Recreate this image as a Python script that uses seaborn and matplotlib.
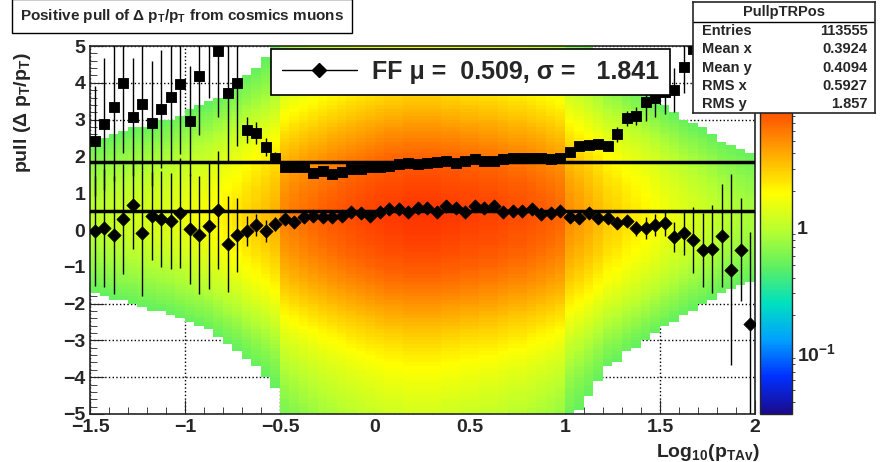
import numpy as np
import matplotlib
matplotlib.use("Agg")
import matplotlib.pyplot as plt
import seaborn as sns
from matplotlib.colors import LinearSegmentedColormap, LogNorm
from matplotlib.lines import Line2D

sns.set_style("ticks")
plt.rcParams['font.family'] = ['Liberation Sans', 'DejaVu Sans']
plt.rcParams['font.weight'] = 'bold'
plt.rcParams['axes.unicode_minus'] = True
plt.rcParams['mathtext.default'] = 'regular'

x_lo, x_hi, nbx = -1.5, 2.0, 70
bw = (x_hi - x_lo) / nbx
x_centers = x_lo + bw * (np.arange(nbx) + 0.5)

sigma_vals = [2.42, 2.88, 3.34, 4.0, 3.07, 3.42, 2.9, 3.29, 3.61, 3.97, 2.96, 4.18, 5.5, 4.86, 3.72,
              3.99, 2.72, 2.63, 2.26, 1.96, 1.71, 1.71, 1.71, 1.55, 1.6, 1.52, 1.57, 1.65, 1.65, 1.71,
              1.71, 1.74, 1.8, 1.82, 1.78, 1.82, 1.86, 1.87, 1.82, 1.87, 1.92, 1.87, 1.88, 1.92, 1.96,
              1.96, 1.96, 1.96, 1.94, 1.96, 2.11, 2.28, 2.3, 2.33, 2.28, 2.6, 3.03, 3.1, 3.47, 3.58,
              3.76, 3.8, 4.43, 4.92, 5.5, 5.5, 5.5, 5.5, 5.5, 5.5]
sigma_err = [1.5, 1.8, 2.0, 1.9, 1.6, 1.8, 1.7, 1.6, 1.8, 1.9, 1.5, 1.6, 1.9, 1.8, 1.9,
             1.7, 0.35, 0.3, 0.25, 0.15, 0.05, 0.05, 0.05, 0.05, 0.05, 0.05, 0.05, 0.05, 0.05, 0.05,
             0.05, 0.05, 0.05, 0.05, 0.05, 0.05, 0.05, 0.05, 0.05, 0.05, 0.05, 0.05, 0.05, 0.05, 0.05,
             0.05, 0.05, 0.05, 0.05, 0.05, 0.06, 0.08, 0.08, 0.1, 0.1, 0.2, 0.2, 0.25, 0.5, 0.5,
             0.6, 0.6, 0.7, 0.8, 1.0, 1.0, 1.0, 1.0, 1.0, 1.0]
mean_vals = [-0.03, 0.05, -0.14, 0.3, 0.68, -0.08, 0.38, 0.3, 0.24, 0.46, 0.03, -0.14, 0.11, 0.54, -0.38,
             -0.14, -0.03, 0.14, -0.03, 0.16, 0.3, 0.22, 0.35, 0.37, 0.35, 0.35, 0.38, 0.49, 0.47, 0.39,
             0.49, 0.57, 0.57, 0.49, 0.6, 0.6, 0.49, 0.65, 0.6, 0.49, 0.65, 0.6, 0.65, 0.49, 0.52,
             0.52, 0.57, 0.43, 0.47, 0.52, 0.35, 0.33, 0.47, 0.33, 0.33, 0.19, 0.24, 0.05, 0.05, 0.14,
             0.19, -0.19, -0.08, -0.27, -0.54, -0.52, -0.16, -1.08, -0.54, -2.55]
mean_err = [1.5, 1.6, 1.6, 1.5, 1.2, 1.7, 1.2, 1.3, 1.3, 1.5, 1.5, 1.6, 1.7, 1.6, 1.3,
            1.0, 0.4, 0.3, 0.3, 0.2, 0.05, 0.05, 0.05, 0.05, 0.05, 0.05, 0.05, 0.05, 0.05, 0.05,
            0.05, 0.05, 0.05, 0.05, 0.05, 0.05, 0.05, 0.05, 0.05, 0.05, 0.05, 0.05, 0.05, 0.05, 0.05,
            0.05, 0.05, 0.05, 0.05, 0.05, 0.06, 0.07, 0.07, 0.08, 0.08, 0.1, 0.12, 0.2, 0.3, 0.3,
            0.35, 0.4, 0.6, 0.9, 1.0, 1.2, 1.4, 2.6, 1.4, 2.5]
# column amplitude of the 2D histogram background
col_amp = [1.0, 1.05, 1.1, 1.15, 1.2, 1.25, 1.3, 1.35, 1.4, 1.5, 1.6, 1.7, 1.8, 2.0, 2.2,
           2.4, 2.7, 3.0, 3.3, 3.7, 5.5, 6.0, 6.5, 7.0, 7.5, 8.0, 8.5, 9.0, 9.5, 10,
           10.5, 11, 11, 11.5, 11.5, 11.5, 11.5, 11, 11, 10.5, 10.5, 10, 10, 9.5, 9, 9, 8.5, 8, 7.5, 7,
           5, 4.5, 4, 3.5, 3.0, 2.8, 2.5, 2.3, 2.1, 1.9, 1.7, 1.55, 1.4, 1.3, 1.2, 1.1, 1.0, 0.95, 0.9, 0.85]
fit_mu, fit_sigma = 0.509, 1.841
stat_rows = [("Entries", "113555"), ("Mean x", "0.3924"), ("Mean y", "0.4094"),
             ("RMS x", "0.5927"), ("RMS y", "1.857")]

W, H = 890, 462
fig = plt.figure(figsize=(W / 100, H / 100), dpi=100)
ax = fig.add_axes([90 / W, 1 - 414 / H, 665 / W, 368 / H])

y_edges = np.linspace(-5, 5, 101)
y_c = 0.5 * (y_edges[1:] + y_edges[:-1])
x_edges = np.linspace(x_lo, x_hi, nbx + 1)
amp = np.array(col_amp)
z = amp[None, :] * (0.6 * np.exp(-0.5 * ((y_c[:, None] - 0.4) / 1.6) ** 2) + 0.4 * np.exp(-np.abs(y_c[:, None] - 0.3) / 4.0))
z = np.ma.masked_less(z, 0.5)
cmap = LinearSegmentedColormap.from_list("rootpal", ['#1a0a8c', '#0030ff', '#00a0ff', '#00e0c0', '#60f060',
                                                     '#b8ff30', '#ffff00', '#ffb000', '#ff6000', '#ff2000', '#c01000'])
norm = LogNorm(vmin=0.032, vmax=29)
mesh = ax.pcolormesh(x_edges, y_edges, z, cmap=cmap, norm=norm, rasterized=True)

for v in [fit_mu, fit_sigma]:
    ax.plot([x_lo, x_hi], [v, v], color='black', lw=2.5, zorder=3)

ax.errorbar(x_centers, sigma_vals, yerr=sigma_err, fmt='none', ecolor='black', lw=1, zorder=4)
ax.errorbar(x_centers, mean_vals, yerr=mean_err, fmt='none', ecolor='black', lw=1, zorder=4)
sns.scatterplot(x=x_centers, y=sigma_vals, marker='s', s=60, color='black', edgecolor='black', ax=ax, zorder=5)
sns.scatterplot(x=x_centers, y=mean_vals, marker='D', s=45, color='black', edgecolor='black', ax=ax, zorder=5)

ax.set_xlim(x_lo, x_hi)
ax.set_ylim(-5, 5)
ax.set_xticks([-1.5, -1, -0.5, 0, 0.5, 1, 1.5, 2])
ax.set_xticklabels(["\u22121.5", "\u22121", "\u22120.5", "0", "0.5", "1", "1.5", "2"])
ax.set_yticks(range(-5, 6))
ax.set_yticklabels([("\u2212" + str(-v)) if v < 0 else str(v) for v in range(-5, 6)])
ax.set_xticks(np.arange(-1.5, 2.001, 0.1), minor=True)
ax.set_yticks(np.arange(-5, 5.001, 0.2), minor=True)
ax.tick_params(which='major', direction='in', length=10, labelsize=14, top=False, right=False)
ax.tick_params(which='minor', direction='in', length=5)
ax.grid(True, which='major', linestyle=':', color='black', lw=1)
for sp in ax.spines.values():
    sp.set_linewidth(1.2)
ax.set_ylabel("pull (\u0394 p$_T$/p$_T$)", fontsize=14, fontweight='bold')
ax.yaxis.set_label_coords(-0.085, 0.82)
ax.set_xlabel("Log$_{10}$(p$_{TAv}$)", fontsize=14, fontweight='bold')
ax.xaxis.set_label_coords(0.93, -0.075)

h = Line2D([], [], color='black', lw=1, marker='D', markersize=7)
leg = ax.legend([h], ["FF \u03bc =  0.509, \u03c3 =   1.841"], loc='upper left',
                bbox_to_anchor=((268 - 90) / 665, 1.0),
                prop={'weight': 'bold', 'size': 18, 'family': ['Liberation Sans', 'DejaVu Sans']},
                frameon=True, fancybox=False, edgecolor='black', framealpha=1,
                handlelength=3.0, borderpad=0.45, handletextpad=0.6, borderaxespad=0.1)
leg.get_frame().set_linewidth(1.2)
leg.set_zorder(10)

cax = fig.add_axes([760 / W, 1 - 414 / H, 32 / W, 368 / H])
cb = fig.colorbar(mesh, cax=cax)
cb.set_ticks([0.1, 1])
cb.set_ticklabels(["$10^{-1}$", "1"])
cax.tick_params(labelsize=14, direction='in', length=6)
cb.outline.set_linewidth(1)

fig.text(20 / W, 1 - 16 / H, "Positive pull of \u0394 p$_T$/p$_T$ from cosmics muons", fontsize=11,
         fontweight='bold', va='center', ha='left',
         bbox=dict(boxstyle='square,pad=0.55', fc='white', ec='black', lw=1))

sax = fig.add_axes([693 / W, 1 - 113 / H, 182 / W, 111 / H])
sax.set_xticks([]); sax.set_yticks([])
for sp in sax.spines.values():
    sp.set_linewidth(1.2)
sax.set_xlim(0, 1); sax.set_ylim(0, 111)
sax.text(0.5, 101, "PullpTRPos", ha='center', va='center', fontsize=10.5, fontweight='bold')
sax.axhline(91, color='black', lw=1)
for i, (k, v) in enumerate(stat_rows):
    yy = 82 - i * 18.3
    sax.text(0.05, yy, k, ha='left', va='center', fontsize=10.5, fontweight='bold')
    sax.text(0.96, yy, v, ha='right', va='center', fontsize=10.5, fontweight='bold')

fig.savefig("out.png", dpi=100)
